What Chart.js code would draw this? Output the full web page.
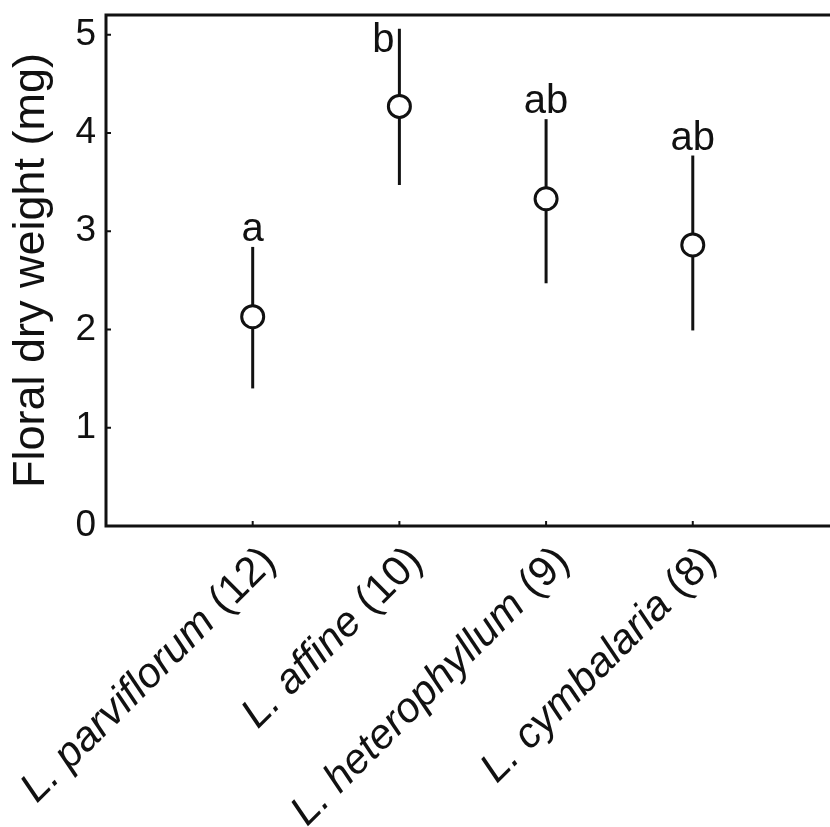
<!DOCTYPE html>
<html>
<head>
<meta charset="utf-8">
<script src="https://cdn.jsdelivr.net/npm/chart.js@4"></script>
<style>
  html, body { margin: 0; padding: 0; background: #fff; }
  #wrap { width: 830px; height: 827px; }
</style>
</head>
<body>
<div id="wrap"><canvas id="c" width="830" height="827"></canvas></div>
<script>
// ---- data ----
const categories = ['L. parviflorum', 'L. affine', 'L. heterophyllum', 'L. cymbalaria'];
const sampleSizes = [12, 10, 9, 8];
const means = [2.13, 4.27, 3.33, 2.86];
const lower = [1.40, 3.47, 2.47, 1.99];
const upper = [2.84, 5.06, 4.14, 3.77];
const letters = ['a', 'b', 'ab', 'ab'];
const yTicks = [0, 1, 2, 3, 4, 5];
const yTitle = 'Floral dry weight (mg)';

const FONT = '"Liberation Sans", Arial, Helvetica, sans-serif';
const INK = '#111';

const points = means.map((m, i) => ({ x: i + 1, y: m }));

const figurePlugin = {
  id: 'figure',
  beforeDatasetsDraw(chart) {
    const { ctx } = chart;
    const xs = chart.scales.x, ys = chart.scales.y;
    ctx.save();
    ctx.strokeStyle = INK;
    ctx.lineWidth = 3;
    ctx.lineCap = 'butt';
    for (let i = 0; i < means.length; i++) {
      const px = xs.getPixelForValue(i + 1);
      ctx.beginPath();
      ctx.moveTo(px, ys.getPixelForValue(lower[i]));
      ctx.lineTo(px, ys.getPixelForValue(upper[i]));
      ctx.stroke();
    }
    ctx.restore();
  },
  afterDatasetsDraw(chart) {
    const { ctx, chartArea } = chart;
    const xs = chart.scales.x, ys = chart.scales.y;
    ctx.save();
    ctx.fillStyle = INK;
    ctx.font = '40px ' + FONT;
    for (let i = 0; i < letters.length; i++) {
      const px = xs.getPixelForValue(i + 1);
      const top = ys.getPixelForValue(upper[i]);
      const m = ctx.measureText(letters[i]);
      const asc = m.actualBoundingBoxAscent;
      let base = top - 6;
      if (base - asc < chartArea.top + 4) {
        // no room above the bar: set the letter beside it
        ctx.textAlign = 'right';
        ctx.textBaseline = 'alphabetic';
        ctx.fillText(letters[i], px - 5, chartArea.top + 7 + asc);
      } else {
        ctx.textAlign = 'center';
        ctx.textBaseline = 'alphabetic';
        ctx.fillText(letters[i], px, base);
      }
    }
    ctx.restore();
  },
  afterDraw(chart) {
    const { ctx, chartArea } = chart;
    const xs = chart.scales.x, ys = chart.scales.y;
    ctx.save();
    ctx.strokeStyle = INK;
    ctx.lineWidth = 3;
    // frame: top, left, bottom
    ctx.beginPath();
    ctx.moveTo(chart.width, chartArea.top);
    ctx.lineTo(chartArea.left, chartArea.top);
    ctx.lineTo(chartArea.left, chartArea.bottom);
    ctx.lineTo(chart.width, chartArea.bottom);
    ctx.stroke();
    // inward tick marks
    ctx.lineWidth = 2;
    ctx.beginPath();
    yTicks.forEach(v => {
      const py = ys.getPixelForValue(v);
      ctx.moveTo(chartArea.left, py);
      ctx.lineTo(chartArea.left + 5, py);
    });
    categories.forEach((c, i) => {
      const px = xs.getPixelForValue(i + 1);
      ctx.moveTo(px, chartArea.bottom);
      ctx.lineTo(px, chartArea.bottom - 5);
    });
    ctx.stroke();
    // rotated category labels: italic species name + upright sample size
    ctx.fillStyle = INK;
    categories.forEach((c, i) => {
      const px = xs.getPixelForValue(i + 1);
      const italic = 'italic 42px ' + FONT;
      const upright = '42px ' + FONT;
      const tail = ' (' + sampleSizes[i] + ')';
      ctx.font = italic;
      const w1 = ctx.measureText(c).width;
      ctx.font = upright;
      const w2 = ctx.measureText(tail).width;
      ctx.save();
      ctx.translate(px + 2, chartArea.bottom + 14);
      ctx.rotate(-Math.PI / 4);
      ctx.textBaseline = 'top';
      ctx.textAlign = 'left';
      ctx.font = italic;
      ctx.fillText(c, -(w1 + w2), 0);
      ctx.font = upright;
      ctx.fillText(tail, -w2, 0);
      ctx.restore();
    });
    ctx.restore();
  }
};

new Chart(document.getElementById('c'), {
  type: 'scatter',
  data: {
    datasets: [{
      data: points,
      pointStyle: 'circle',
      pointRadius: 11,
      pointHoverRadius: 11,
      pointBorderWidth: 3,
      pointHoverBorderWidth: 3,
      pointBackgroundColor: '#fff',
      pointBorderColor: INK,
      showLine: false
    }]
  },
  options: {
    responsive: false,
    devicePixelRatio: 1,
    animation: false,
    events: [],
    layout: { padding: { top: 15, right: 0, left: 0, bottom: 0 } },
    plugins: { legend: { display: false }, tooltip: { enabled: false } },
    scales: {
      x: {
        type: 'linear',
        min: 0,
        max: 4.84,
        grid: { display: false },
        border: { display: false },
        ticks: { display: false },
        afterFit(s) { s.height = 301; s.paddingLeft = 0; s.paddingRight = 0; }
      },
      y: {
        type: 'linear',
        min: 0,
        max: 5.2,
        grid: { display: false, drawTicks: false },
        border: { display: false },
        afterBuildTicks(s) { s.ticks = yTicks.map(v => ({ value: v })); },
        ticks: {
          color: INK,
          padding: 10,
          font: { family: FONT, size: 37 },
          callback: v => String(v)
        },
        title: {
          display: true,
          text: yTitle,
          color: INK,
          font: { family: FONT, size: 45, lineHeight: 1 },
          padding: { top: 9, bottom: 0 }
        },
        afterFit(s) { s.width = 106; s.paddingTop = 0; s.paddingBottom = 0; }
      }
    }
  },
  plugins: [figurePlugin]
});
</script>
</body>
</html>
